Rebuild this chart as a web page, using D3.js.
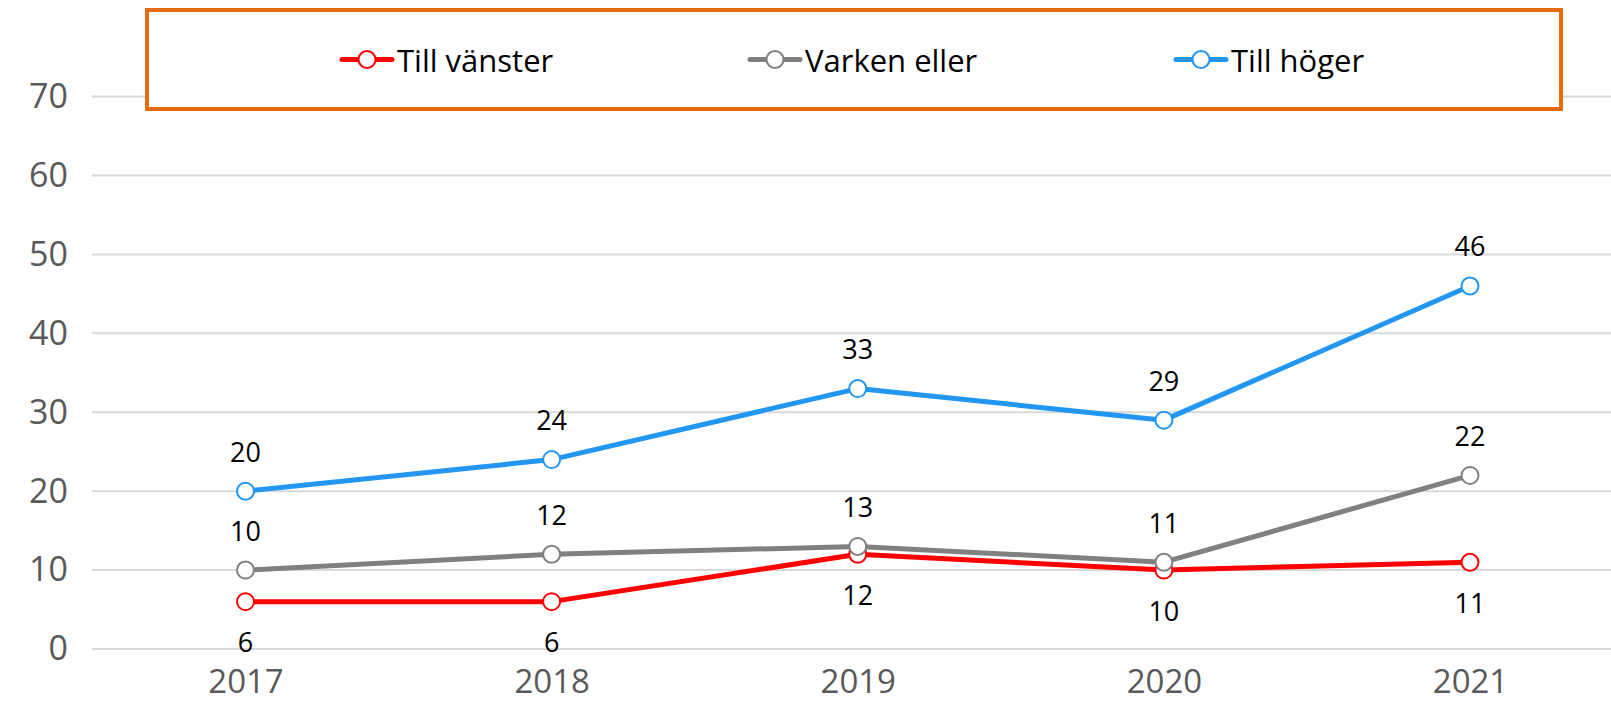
<!DOCTYPE html>
<html>
<head>
<meta charset="utf-8">
<script src="https://cdn.jsdelivr.net/npm/d3@7"></script>
<style>
  body { margin: 0; background: #fff; }
  svg { display: block; font-family: "Open Sans", "Noto Sans", sans-serif; }
</style>
</head>
<body>
<div id="chart"></div>
<script>
// data
const years = ["2017", "2018", "2019", "2020", "2021"];
const tillVanster = [6, 6, 12, 10, 11];
const varkenEller = [10, 12, 13, 11, 22];
const tillHoger = [20, 24, 33, 29, 46];
const seriesNames = ["Till vänster", "Varken eller", "Till höger"];
const yTicks = [0, 10, 20, 30, 40, 50, 60, 70];

const colors = ["#ff0000", "#808080", "#2196f3"];
const series = [tillVanster, varkenEller, tillHoger];
// label above (-1) or below (+1) the point
const labelSide = [1, -1, -1];

var width = 1611, height = 708;

var svg = d3.select("#chart")
  .append("svg")
  .attr("width", width)
  .attr("height", height);

var x = d3.scalePoint()
  .domain(years)
  .range([245.5, 1470]);

var y = d3.scaleLinear()
  .domain([0, 70])
  .range([649, 96.6]);

// gridlines
svg.append("g")
  .selectAll("line")
  .data(yTicks)
  .enter()
  .append("line")
  .attr("x1", 92)
  .attr("x2", width)
  .attr("y1", d => y(d))
  .attr("y2", d => y(d))
  .attr("stroke", "#d9d9d9")
  .attr("stroke-width", 2);

// y axis labels
var yAxis = d3.axisLeft(y).tickValues(yTicks).tickSize(0).tickPadding(0);
var gy = svg.append("g")
  .attr("transform", "translate(68,0)")
  .call(yAxis);
gy.select(".domain").remove();
gy.selectAll("text")
  .attr("fill", "#595959")
  .style("font-size", "34px")
  .style("font-family", "'Open Sans', sans-serif");

// x axis labels
var xAxis = d3.axisBottom(x).tickSize(0).tickPadding(0);
var gx = svg.append("g")
  .attr("transform", "translate(0,670)")
  .call(xAxis);
gx.select(".domain").remove();
gx.selectAll("text")
  .attr("fill", "#595959")
  .style("font-size", "33px")
  .style("font-family", "'Open Sans', sans-serif");

var line = d3.line()
  .x((d, i) => x(years[i]))
  .y(d => y(d));

series.forEach(function (vals, s) {
  var g = svg.append("g");
  g.append("path")
    .datum(vals)
    .attr("d", line)
    .attr("fill", "none")
    .attr("stroke", colors[s])
    .attr("stroke-width", 5)
    .attr("stroke-linejoin", "round");
  g.selectAll("circle")
    .data(vals)
    .enter()
    .append("circle")
    .attr("cx", (d, i) => x(years[i]))
    .attr("cy", d => y(d))
    .attr("r", 8.5)
    .attr("fill", "#fff")
    .attr("stroke", colors[s])
    .attr("stroke-width", 2);
});

// data labels
series.forEach(function (vals, s) {
  svg.append("g")
    .selectAll("text")
    .data(vals)
    .enter()
    .append("text")
    .attr("x", (d, i) => x(years[i]))
    .attr("y", d => y(d) + labelSide[s] * 40)
    .attr("text-anchor", "middle")
    .attr("dominant-baseline", "central")
    .attr("fill", "#000")
    .style("font-size", "27px")
    .text(d => d);
});

// legend
var legend = svg.append("g");
legend.append("rect")
  .attr("x", 147)
  .attr("y", 10)
  .attr("width", 1414)
  .attr("height", 99)
  .attr("fill", "#fff")
  .attr("stroke", "#e46c0a")
  .attr("stroke-width", 4);

const legendX = [342, 750, 1176];
seriesNames.forEach(function (name, s) {
  var lg = legend.append("g").attr("transform", "translate(" + legendX[s] + ",59.5)");
  lg.append("line")
    .attr("x1", 0).attr("x2", 50)
    .attr("y1", 0).attr("y2", 0)
    .attr("stroke", colors[s])
    .attr("stroke-width", 5)
    .attr("stroke-linecap", "round");
  lg.append("circle")
    .attr("cx", 25).attr("cy", 0).attr("r", 8.5)
    .attr("fill", "#fff")
    .attr("stroke", colors[s])
    .attr("stroke-width", 2);
  lg.append("text")
    .attr("x", 55)
    .attr("y", 0)
    .attr("dominant-baseline", "central")
    .attr("fill", "#000")
    .style("font-size", "31px")
    .text(name);
});
</script>
</body>
</html>
